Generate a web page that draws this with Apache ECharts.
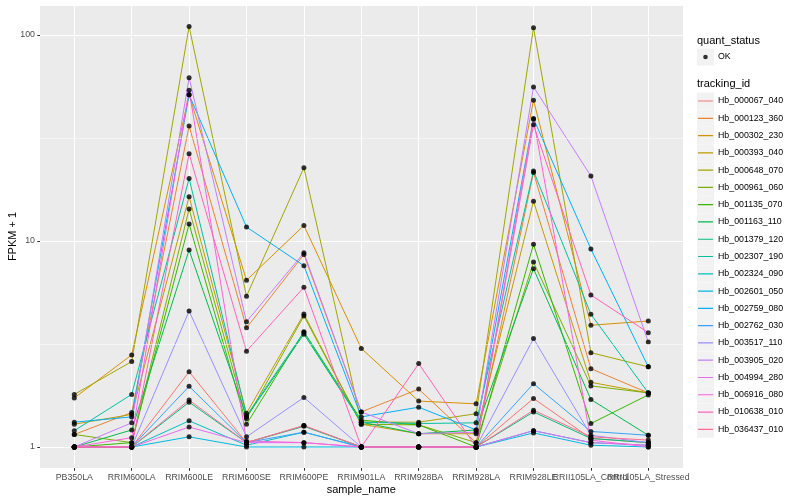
<!DOCTYPE html>
<html><head><meta charset="utf-8">
<script src="https://cdn.jsdelivr.net/npm/echarts@6/dist/echarts.min.js"></script>
<style>html,body{margin:0;padding:0;background:#fff}#c{width:800px;height:500px}</style>
</head><body><div id="c"></div>
<script>
// ---------- data ----------
const categories = ["PB350LA","RRIM600LA","RRIM600LE","RRIM600SE","RRIM600PE","RRIM901LA","RRIM928BA","RRIM928LA","RRIM928LE","RRII105LA_Control","RRII105LA_Stressed"];
const trackingIds = ["Hb_000067_040","Hb_000123_360","Hb_000302_230","Hb_000393_040","Hb_000648_070","Hb_000961_060","Hb_001135_070","Hb_001163_110","Hb_001379_120","Hb_002307_190","Hb_002324_090","Hb_002601_050","Hb_002759_080","Hb_002762_030","Hb_003517_110","Hb_003905_020","Hb_004994_280","Hb_006916_080","Hb_010638_010","Hb_036437_010"];
const Hb_000067_040 = [1.00, 1.00, 2.32, 1.05, 1.27, 1.00, 1.00, 1.00, 1.72, 1.10, 1.05];
const Hb_000123_360 = [1.15, 1.47, 36.2, 3.79, 8.60, 1.48, 1.91, 1.05, 21.5, 2.40, 1.83];
const Hb_000302_230 = [1.73, 2.80, 51.3, 6.45, 11.9, 3.01, 1.67, 1.62, 48.3, 3.90, 4.09];
const Hb_000393_040 = [1.29, 1.44, 16.4, 1.46, 4.42, 1.29, 1.16, 1.16, 15.6, 2.06, 1.83];
const Hb_000648_070 = [1.80, 2.60, 110, 5.40, 22.7, 1.32, 1.32, 1.45, 108.6, 2.87, 2.45];
const Hb_000961_060 = [1.15, 1.05, 14.3, 1.37, 4.33, 1.29, 1.28, 1.05, 7.90, 1.98, 1.83];
const Hb_001135_070 = [1.00, 1.05, 12.1, 1.29, 3.63, 1.35, 1.28, 1.00, 9.64, 1.30, 1.79];
const Hb_001163_110 = [1.00, 1.21, 9.04, 1.40, 3.53, 1.32, 1.16, 1.21, 7.34, 1.70, 1.14];
const Hb_001379_120 = [1.00, 1.00, 1.65, 1.05, 1.26, 1.00, 1.00, 1.00, 1.48, 1.10, 1.05];
const Hb_002307_190 = [1.20, 1.80, 20.1, 1.42, 3.60, 1.32, 1.30, 1.31, 21.9, 4.41, 1.83];
const Hb_002324_090 = [1.00, 1.00, 1.34, 1.02, 1.18, 1.00, 1.00, 1.00, 1.20, 1.05, 1.02];
const Hb_002601_050 = [1.00, 1.00, 1.12, 1.00, 1.00, 1.00, 1.00, 1.00, 1.17, 1.02, 1.00];
const Hb_002759_080 = [1.32, 1.40, 51.3, 11.7, 7.59, 1.40, 1.56, 1.21, 39.3, 9.15, 2.45];
const Hb_002762_030 = [1.00, 1.00, 1.97, 1.05, 1.18, 1.00, 1.00, 1.00, 2.03, 1.19, 1.14];
const Hb_003517_110 = [1.00, 1.00, 4.57, 1.12, 1.74, 1.00, 1.00, 1.00, 3.36, 1.14, 1.05];
const Hb_003905_020 = [1.00, 1.31, 62.0, 4.06, 8.77, 1.48, 1.16, 1.18, 56.0, 20.7, 3.23];
const Hb_004994_280 = [1.00, 1.00, 1.25, 1.05, 1.05, 1.00, 1.00, 1.00, 1.20, 1.05, 1.02];
const Hb_006916_080 = [1.00, 1.11, 54.0, 1.07, 1.05, 1.00, 1.00, 1.00, 39.0, 1.08, 1.00];
const Hb_010638_010 = [1.00, 1.00, 26.5, 2.92, 5.96, 1.00, 2.54, 1.00, 36.7, 5.47, 3.59];
const Hb_036437_010 = [1.00, 1.00, 1.69, 1.05, 1.27, 1.00, 1.00, 1.00, 1.51, 1.12, 1.08];
const seriesValues = [Hb_000067_040,Hb_000123_360,Hb_000302_230,Hb_000393_040,Hb_000648_070,Hb_000961_060,Hb_001135_070,Hb_001163_110,Hb_001379_120,Hb_002307_190,Hb_002324_090,Hb_002601_050,Hb_002759_080,Hb_002762_030,Hb_003517_110,Hb_003905_020,Hb_004994_280,Hb_006916_080,Hb_010638_010,Hb_036437_010];
const yTickLabels = ["1", "10", "100"];
const minorBreaks = [Math.sqrt(10), Math.sqrt(1000)];

// ---------- style ----------
const palette = ["#F8766D","#EA8331","#D89000","#C09B00","#A3A500","#7CAE00","#39B600","#00BB4E","#00BF7D","#00C1A3","#00BFC4","#00BAE0","#00B0F6","#35A2FF","#9590FF","#C77CFF","#E76BF3","#FA62DB","#FF62BC","#FF6C91"];
const FONT = "'Liberation Sans', Arial, Helvetica, sans-serif";
const yMin = Math.pow(10, -0.102), yMax = Math.pow(10, 2.146);
const LINE_ICON = 'path://M0,0h0.01v0.01h-0.01zM14.99,16.99h0.01v0.01h-0.01zM0,7.9h15v1.2h-15z';
const DOT_ICON = 'path://M0,0h0.01v0.01h-0.01zM14.99,16.99h0.01v0.01h-0.01zM5.2,8.5a2.3,2.3 0 1 0 4.6,0a2.3,2.3 0 1 0 -4.6,0z';
const legendTop = 92.5, legendStep = 17.28;

const points = [];
seriesValues.forEach(vals => vals.forEach((v, i) => points.push([categories[i], v])));

const lineSeries = trackingIds.map((id, k) => ({
  name: id, type: 'line', xAxisIndex: 1, yAxisIndex: 1,
  data: seriesValues[k], color: palette[k],
  showSymbol: false, symbol: 'none', z: 2,
  lineStyle: { width: 1, color: palette[k] },
  itemStyle: { color: palette[k] },
  emphasis: { disabled: true }
}));

const keyRects = [48.5].concat(trackingIds.map((_, i) => legendTop + i * legendStep)).map(t => ({
  type: 'rect', silent: true, z: 1,
  shape: { x: 697, y: t, width: 17, height: 17 },
  style: { fill: '#F2F2F2' }
}));

const chart = echarts.init(document.getElementById('c'), null, { renderer: 'canvas' });
chart.setOption({
  animation: false,
  backgroundColor: '#FFFFFF',
  textStyle: { fontFamily: FONT },
  title: [
    { text: 'quant_status', left: 697, top: 35, padding: 0, textStyle: { fontSize: 11, fontWeight: 'normal', color: '#000', fontFamily: FONT } },
    { text: 'tracking_id', left: 697, top: 78.5, padding: 0, textStyle: { fontSize: 11, fontWeight: 'normal', color: '#000', fontFamily: FONT } }
  ],
  graphic: keyRects,
  legend: [
    { data: ['OK'], orient: 'vertical', left: 698, top: 48.5, padding: 0, itemWidth: 15, itemHeight: 17, icon: DOT_ICON, selectedMode: false, z: 5,
      textStyle: { fontSize: 8.8, color: '#000', fontFamily: FONT } },
    { data: trackingIds, orient: 'vertical', left: 698, top: legendTop, padding: 0, itemWidth: 15, itemHeight: 17, itemGap: legendStep - 17, icon: LINE_ICON, selectedMode: false, z: 5,
      textStyle: { fontSize: 8.8, color: '#000', fontFamily: FONT } }
  ],
  grid: [
    { left: 40, right: 117, top: 5, bottom: 32, show: true, backgroundColor: '#EBEBEB', borderWidth: 0, outerBoundsMode: 'none', containLabel: false },
    { left: 74.3, right: 151.7, top: 5, bottom: 32, outerBoundsMode: 'none', containLabel: false }
  ],
  xAxis: [
    { type: 'value', gridIndex: 0, min: 0, max: 1, show: false },
    { type: 'category', gridIndex: 1, data: categories, boundaryGap: false,
      axisLine: { show: false },
      axisTick: { show: true, length: 2.75, lineStyle: { color: '#333333', width: 1 } },
      axisLabel: { interval: 0, color: '#4D4D4D', fontSize: 8.8, margin: 4.6, fontFamily: FONT },
      splitLine: { show: true, lineStyle: { color: '#FFFFFF', width: 1.07 } },
      name: 'sample_name', nameLocation: 'middle', nameGap: 16, nameMoveOverlap: false,
      nameTextStyle: { fontSize: 11, color: '#000', fontFamily: FONT } }
  ],
  yAxis: [
    { type: 'log', logBase: 10, gridIndex: 0, min: yMin, max: yMax,
      axisLine: { show: false },
      axisTick: { show: true, length: 2.75, lineStyle: { color: '#333333', width: 1 } },
      axisLabel: { color: '#4D4D4D', fontSize: 8.8, margin: 5, fontFamily: FONT, showMinLabel: false, showMaxLabel: false,
        formatter: v => yTickLabels.indexOf(String(v)) >= 0 ? String(v) : '' },
      splitLine: { show: true, lineStyle: { color: '#FFFFFF', width: 1.07 } },
      name: 'FPKM + 1', nameLocation: 'middle', nameGap: 21.5, nameMoveOverlap: false,
      nameTextStyle: { fontSize: 11, color: '#000', fontFamily: FONT } },
    { type: 'log', logBase: 10, gridIndex: 1, min: yMin, max: yMax, show: false }
  ],
  series: [
    { name: 'minor', type: 'line', xAxisIndex: 0, yAxisIndex: 0, data: [], z: 1,
      markLine: { silent: true, symbol: ['none', 'none'], label: { show: false },
        lineStyle: { color: '#FFFFFF', width: 0.53, type: 'solid' },
        data: minorBreaks.map(v => ({ yAxis: v })) } }
  ].concat(lineSeries).concat([
    { name: 'OK', type: 'scatter', xAxisIndex: 1, yAxisIndex: 1, data: points, symbol: 'circle', symbolSize: 5,
      itemStyle: { color: '#000000' }, z: 3, emphasis: { disabled: true } }
  ])
});
</script></body></html>
